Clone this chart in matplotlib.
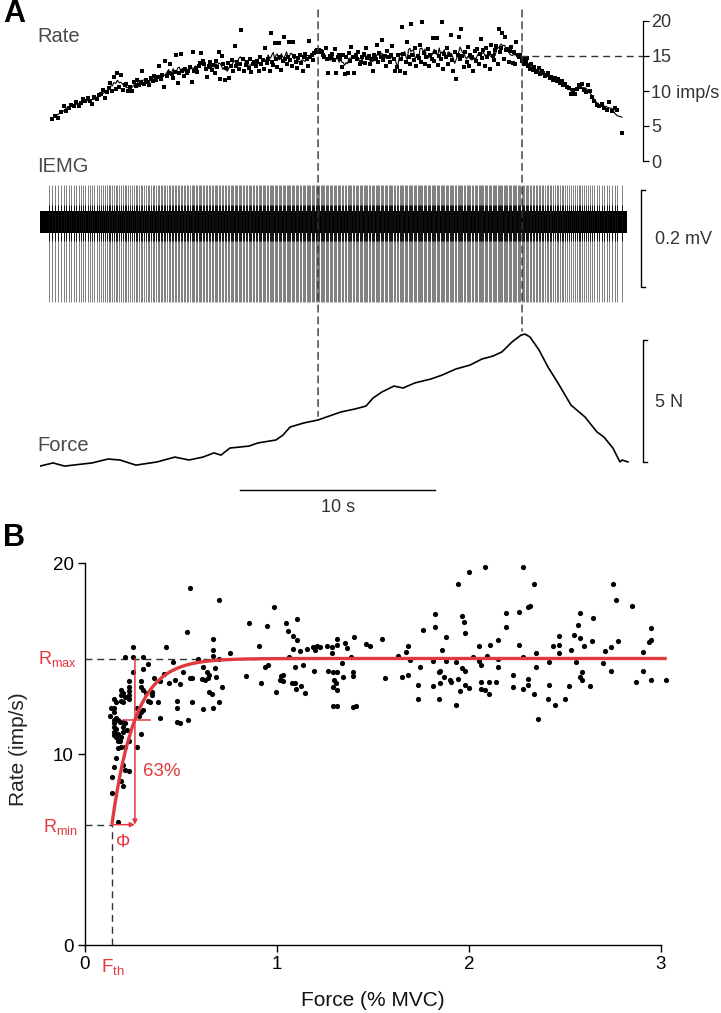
import numpy as np
import matplotlib
matplotlib.use('Agg')
import matplotlib.pyplot as plt
from matplotlib.patches import ConnectionPatch
import pandas as pd

plt.rcParams['font.family'] = ['Liberation Sans', 'DejaVu Sans']

RED = '#e0393e'
GRAY = '#4a4a4a'

# ---------------- Panel A data ----------------
# instantaneous discharge rates (imp/s), in firing order
rate_a = [
    6.0, 6.4, 6.1, 7.0, 7.9, 7.2, 7.6, 8.0, 7.8, 8.4, 7.9, 8.3, 8.8, 8.5, 9.0, 8.6, 8.1, 9.2, 8.9, 9.4,
    9.6, 10.2, 9.0, 9.8, 10.4, 11.1, 10.0, 12.0, 10.3, 12.6, 10.5, 12.3, 10.1, 10.8, 11.0, 10.0,
    10.6, 10.0, 11.3, 10.7, 11.6, 10.9, 11.2, 12.9, 11.0, 11.5, 11.3, 10.9, 11.8, 11.4, 12.1, 11.6,
    12.0, 13.6, 11.7, 12.3, 10.6, 14.3, 12.1, 12.6, 13.9, 12.4, 11.8, 12.7, 15.1, 11.1, 12.5, 15.3,
    12.9, 12.2, 13.1, 12.6, 12.8, 13.4, 11.3, 15.6, 12.9, 13.3, 12.7, 13.5, 14.0, 15.4, 14.3, 13.8,
    13.2, 12.0, 13.6, 14.1, 13.0, 13.7, 12.6, 14.3, 13.4, 15.6, 11.7, 15.0, 13.8, 11.6, 13.3, 14.0,
    11.9, 13.5, 14.4, 12.9, 16.4, 13.6, 14.2, 13.1, 13.9, 18.7, 14.5, 12.8, 13.7, 14.1, 13.3, 14.6,
    12.7, 13.9, 14.2,
    13.6, 14.3, 12.9, 14.8, 13.9, 14.4, 13.2, 16.1, 14.0, 14.6, 12.8, 18.3, 14.2, 13.7, 16.9, 14.5,
    13.4, 16.9, 14.8, 13.0, 14.3, 17.7, 14.6, 13.8, 14.9, 17.0, 14.4, 13.5, 17.0, 15.0, 14.1, 13.3,
    14.7, 15.2, 14.0, 12.9, 14.9, 15.3, 14.5, 13.6, 17.1, 14.8, 15.1, 14.4,
    15.4, 15.7, 15.8, 15.6, 15.9, 15.7, 15.5, 15.2, 14.9, 16.2, 14.6, 12.6, 15.0, 14.7, 15.3, 14.4,
    16.0, 12.6, 14.9, 15.1, 14.5, 13.4, 15.2, 12.4, 14.8, 12.6, 15.4, 14.3, 16.3, 14.9, 12.6, 15.1,
    14.6, 15.5, 13.8, 14.2, 14.8, 15.3, 14.0, 16.1, 14.7, 15.0, 13.9, 14.5, 12.9, 15.2, 14.6, 16.6,
    14.1, 15.4, 14.9, 17.3, 14.4, 15.0, 13.6, 15.7, 14.8, 14.2, 15.1, 16.4, 14.5, 12.9,
    13.4, 15.1, 12.9, 14.6, 19.1, 15.3, 12.6, 14.2, 17.0, 14.9, 13.8, 19.6, 15.2, 14.4, 16.1, 13.6,
    15.0, 14.7, 16.5, 14.1, 19.9, 15.4, 13.9, 14.8, 16.0, 13.5, 15.2, 14.6, 17.6, 14.3, 15.5, 17.6,
    13.7, 15.0, 14.5, 19.9, 13.2, 15.3, 14.8, 16.2, 13.9, 15.1, 18.0, 14.4, 12.8, 15.6,
    11.7, 15.2, 17.7, 14.6, 18.9, 15.0, 13.4, 15.5, 14.1, 16.3, 13.6, 15.1, 14.8, 12.9, 15.7, 14.3,
    16.0, 13.8, 15.3, 17.4, 14.7, 15.9, 13.5, 16.2, 14.9, 15.4, 13.2, 16.5, 15.0, 14.4, 15.8, 16.4,
    13.9, 18.9, 15.6, 16.1, 18.3, 14.6, 17.7, 15.9, 16.0, 14.2, 15.7, 16.3, 14.0, 15.5, 13.8, 17.0,
    15.2,
    14.8, 15.1, 14.3, 14.6, 13.9, 14.2, 14.7, 13.6, 13.2, 13.8, 13.0, 13.4, 12.7, 12.9, 13.3, 12.4,
    12.8, 12.6, 12.1, 12.3, 12.5, 11.8, 12.0, 11.6, 11.9, 11.4, 11.7,
    11.2, 11.4, 10.9, 11.0, 10.6, 10.4, 9.6, 10.1, 9.5, 10.3, 10.8, 10.5, 11.0, 10.2, 9.8, 10.9,
    10.0, 9.2, 8.6, 8.0, 7.8,
    8.2, 7.6, 7.3, 8.4, 7.1, 7.5, 7.3, 4.0,
]
first_spike_t = 0.45  # s

force_t = [0.0, 0.67, 1.26, 2.67, 3.49, 4.10, 4.92, 6.0, 6.92, 7.64, 8.36, 8.92, 9.28, 9.74,
           10.72, 11.18, 12.10, 12.46, 12.82, 13.54, 14.26, 14.97, 15.44, 16.15, 16.72, 17.08,
           17.54, 18.15, 18.62, 19.23, 20.05, 20.62, 21.33, 22.05, 22.67, 23.23, 23.69, 24.21,
           24.67, 24.87, 25.13, 25.59, 26.05, 26.56, 27.23, 27.95, 28.56, 28.92, 29.38, 29.74,
           29.85, 30.15]
force_n = [0.16, 0.29, 0.16, 0.29, 0.45, 0.41, 0.20, 0.33, 0.53, 0.41, 0.53, 0.70, 0.61, 0.90,
           0.98, 1.11, 1.23, 1.43, 1.76, 1.93, 2.05, 2.25, 2.38, 2.50, 2.62, 2.95,
           3.20, 3.44, 3.36, 3.57, 3.73, 3.89, 4.14, 4.30, 4.55, 4.67, 4.84, 5.25,
           5.53, 5.57, 5.45, 4.92, 4.22, 3.57, 2.66, 2.17, 1.56, 1.35, 0.90, 0.33,
           0.41, 0.33]

marker_times = [14.26, 24.72]
rate_ref = 15
spike_up, spike_down = 0.076, -0.165   # mV
noise_half = 0.023                     # mV

# ---------------- Panel B data ----------------
force_b = [
    0.25, 0.21, 0.25, 0.30, 0.42, 0.33, 0.30, 0.25, 0.29, 0.29, 0.39, 0.44, 0.47,
    0.23, 0.23, 0.23, 0.23, 0.23, 0.19, 0.20, 0.19, 0.21, 0.19, 0.20, 0.15, 0.16, 0.15,
    0.30, 0.32, 0.35, 0.35, 0.33, 0.34, 0.38, 0.39, 0.27, 0.30, 0.29, 0.28, 0.48, 0.48, 0.48,
    0.135, 0.15, 0.13, 0.16, 0.15, 0.17, 0.18, 0.20, 0.21,
    0.15, 0.15, 0.16, 0.15, 0.15, 0.16, 0.17, 0.17, 0.18, 0.19, 0.20, 0.20, 0.22, 0.29,
    0.23, 0.27, 0.21, 0.19, 0.17, 0.16, 0.15, 0.20, 0.21, 0.23, 0.14, 0.19, 0.20, 0.14, 0.17,
    0.46, 0.36, 0.41,
    0.547, 0.698, 0.53, 0.668, 0.668, 0.668, 0.755, 0.59, 0.698, 0.509, 0.495, 0.547, 0.559,
    0.616, 0.634, 0.648, 0.643, 0.625, 0.608, 0.682, 0.677, 0.715, 0.646, 0.66, 0.557, 0.698,
    0.668, 0.616, 0.538, 0.495,
    0.837, 0.856, 0.906, 0.915, 0.936, 0.955, 0.946, 0.986, 0.996, 1.019, 1.033, 1.016, 1.030,
    1.045, 1.056, 1.085, 1.102, 1.106, 1.085, 1.064, 1.094, 1.137, 1.076, 1.094, 1.097, 1.123,
    1.146, 1.12, 1.155, 1.189, 1.198, 1.21, 1.224, 1.194, 1.259, 1.285, 1.285, 1.314, 1.314,
    1.354, 1.363, 1.403, 1.384, 1.337, 1.267, 1.29, 1.311, 1.299, 1.307, 1.314, 1.293, 1.345,
    1.394, 1.394, 1.293, 1.311, 1.394, 1.411,
    1.464, 1.484, 1.545, 1.563, 1.632, 1.653, 1.672, 1.684, 1.684, 1.693, 1.733, 1.733, 1.745,
    1.762, 1.813, 1.813, 1.823, 1.823, 1.842, 1.842, 1.851, 1.851, 1.861, 1.872, 1.882, 1.882,
    1.901, 1.905, 1.931, 1.931, 1.941, 1.941, 1.951, 1.962, 1.962, 1.972, 1.981, 1.981, 1.981,
    2.002, 2.002, 2.023, 2.052, 2.052, 2.063, 2.063, 2.063, 2.082, 2.082, 2.092, 2.102, 2.102,
    2.111, 2.141, 2.151, 2.151, 2.151, 2.191, 2.191, 2.231, 2.231, 2.26, 2.26, 2.28, 2.28, 2.28,
    2.309, 2.309, 2.319, 2.309, 2.34, 2.34, 2.349, 2.349, 2.361, 2.41, 2.418, 2.418, 2.439,
    2.45, 2.47, 2.47, 2.47, 2.5, 2.519, 2.53, 2.549, 2.559, 2.569, 2.578, 2.578, 2.578, 2.589,
    2.589, 2.599, 2.628, 2.639, 2.648, 2.698, 2.708, 2.738, 2.738, 2.748, 2.767, 2.778, 2.847,
    2.868, 2.908, 2.908, 2.938, 2.948, 2.948, 2.948, 3.026,
]
rate_b = [
    15.6, 15.1, 15.1, 15.1, 15.6, 14.7, 14.45, 14.3, 13.8, 13.5, 13.8, 13.7, 13.9,
    13.8, 13.5, 13.3, 13.1, 12.9, 13.35, 13.2, 13.1, 13.0, 12.8, 12.7, 12.9, 12.7, 12.4,
    13.35, 13.2, 13.25, 13.1, 12.8, 12.7, 12.7, 11.9, 12.4, 12.3, 12.2, 12.0, 12.8, 12.4, 11.7,
    12.4, 12.2, 12.0, 11.9, 11.8, 11.8, 11.7, 11.7, 11.6,
    11.6, 11.4, 11.3, 11.15, 11.0, 10.9, 11.05, 10.7, 10.7, 10.9, 11.15, 11.4, 11.25, 11.05,
    10.7, 10.35, 10.35, 10.35, 10.3, 9.8, 9.3, 9.4, 9.15, 9.1, 8.8, 8.6, 8.3, 7.95, 6.45,
    14.8, 14.0, 14.2,
    18.67, 18.06, 16.4, 16.0, 15.45, 15.15, 15.28, 14.97, 14.97, 14.31, 13.66, 14.0, 14.0,
    14.57, 14.31, 14.13, 13.96, 13.87, 13.92, 14.02, 14.49, 13.52, 13.26, 13.14, 12.74, 12.74,
    12.42, 12.34, 11.78, 11.64,
    14.08, 16.88, 15.67, 13.7, 14.57, 14.64, 16.72, 17.68, 13.23, 14.08, 14.13, 13.9, 13.84,
    16.88, 16.44, 16.18, 15.97, 17.07, 15.5, 15.09, 14.57, 14.66, 13.73, 13.7, 13.39, 13.56,
    13.18, 15.39, 15.5, 15.58, 15.45, 15.65, 15.58, 14.36, 15.65, 15.58, 15.27, 16.02, 15.71,
    15.83, 15.53, 16.14, 15.09, 14.77, 14.36, 14.31, 14.27, 13.9, 13.73, 13.35, 13.52, 14.01,
    14.31, 14.08, 12.53, 12.53, 12.48, 12.53,
    15.74, 15.65, 16.02, 13.96, 15.15, 14.05, 15.36, 15.67, 14.12, 14.92, 13.63, 12.9, 14.54,
    16.48, 14.85, 13.54, 17.31, 16.65, 12.86, 14.31, 14.36, 13.70, 15.45, 14.01, 16.14, 14.89,
    13.87, 13.79, 12.57, 14.8, 18.92, 13.94, 13.3, 17.23, 14.49, 16.9, 16.32, 14.36, 13.63,
    19.51, 13.44, 15.1, 15.67, 14.89, 14.64, 13.79, 13.39, 19.77, 13.35, 15.15, 13.79, 13.12,
    15.72, 13.76, 15.97, 14.97, 14.54, 17.40, 16.65, 14.12, 13.49, 17.43, 15.71, 19.77, 15.06, 13.41,
    17.68, 13.61, 17.75, 13.94, 18.88, 13.14, 15.3, 14.54, 11.81, 12.9, 14.8, 13.63, 15.67,
    12.55, 16.18, 15.71, 15.3, 12.86, 13.54, 15.46, 16.23, 14.83, 16.75, 17.36, 16.09, 14.03, 14.31,
    13.87, 15.65, 13.58, 15.93, 17.1, 14.75, 15.39, 15.6, 14.34, 18.88, 18.06, 15.90, 17.75,
    13.75, 15.34, 14.36, 15.86, 15.97, 16.6, 13.87, 13.87,
]
R_min, R_max, F_th, phi = 6.3, 15.0, 0.14, 0.12
fit_end = 3.03

# ---------------- Figure ----------------
W, H = 721, 1013
fig = plt.figure(figsize=(W / 100, H / 100), dpi=100)


def ax_px(left, top, right, bottom):
    return fig.add_axes([left / W, 1 - bottom / H, (right - left) / W, (bottom - top) / H])


T_MAX = (643 - 40) / 19.5
ax_r = ax_px(40, 10, 643, 165)
ax_e = ax_px(40, 175, 643, 312)
ax_f = ax_px(40, 320, 643, 515)
for a in (ax_r, ax_e, ax_f):
    a.set_xlim(0, T_MAX)
    a.patch.set_alpha(0)
    for s in ('top', 'bottom', 'left'):
        a.spines[s].set_visible(False)
    a.set_xticks([])
ax_r.set_ylim((161 - 165) / 7, (161 - 10) / 7)
ax_e.set_ylim((222 - 312) / 485, (222 - 175) / 485)
ax_f.set_ylim((470 - 515) / 24.4, (470 - 320) / 24.4)
ax_e.spines['right'].set_visible(False)
ax_f.spines['right'].set_visible(False)
ax_e.set_yticks([])
ax_f.set_yticks([])

# spike times from instantaneous rates
rate_arr = np.array(rate_a)
rate_times = first_spike_t + np.cumsum(1.0 / rate_arr)
spike_times = np.concatenate([[first_spike_t], rate_times])

# Rate panel
smooth = pd.Series(rate_arr).rolling(5, center=True, min_periods=1).mean()
ax_r.plot(rate_times, smooth, color='k', lw=0.8)
ax_r.scatter(rate_times, rate_arr, marker='s', s=6.5, c='k', linewidths=0)
ax_r.spines['right'].set_bounds(0, 20)
ax_r.spines['right'].set_linewidth(0.9)
ax_r.yaxis.tick_right()
ax_r.set_yticks([0, 5, 10, 15, 20])
ax_r.set_yticklabels(['0', '5', '10 imp/s', '15', '20'])
ax_r.tick_params(axis='y', direction='out', length=4, width=0.9, labelsize=13,
                 labelcolor='#333333', pad=2)
ax_r.plot([24.6, T_MAX], [rate_ref, rate_ref], ls=(0, (5, 3.5)), color='#333333', lw=1.0,
          clip_on=False)

# IEMG panel
ax_e.vlines(spike_times, spike_down, spike_up, color='#6a6a6a', lw=0.6)
ax_e.fill_between([0, 30.1], -noise_half, noise_half, color='k', lw=0)
ax_e.vlines(spike_times, -0.04, 0.035, color='k', lw=0.6)
xb = (641 - 40) / 19.5
ax_e.plot([xb + 0.2, xb, xb, xb + 0.2], [-0.134, -0.134, 0.066, 0.066], color='k', lw=1,
          clip_on=False)
ax_e.text((655 - 40) / 19.5, -0.037, '0.2 mV', fontsize=13, color='#333333', va='center',
          clip_on=False)

# Force panel
ax_f.plot(force_t, force_n, color='k', lw=1.2)
xb = (643 - 40) / 19.5
ax_f.plot([xb + 0.2, xb, xb, xb + 0.2], [0.33, 0.33, 5.33, 5.33], color='k', lw=1,
          clip_on=False)
ax_f.text((655 - 40) / 19.5, 2.75, '5 N', fontsize=13, color='#333333', va='center')
ax_f.plot([10.26, 20.26], [-0.82, -0.82], color='k', lw=1)
ax_f.text(15.26, -1.52, '10 s', fontsize=13, color='#333333', ha='center', va='center')

# vertical dashed markers spanning the three traces
for t in marker_times:
    fend = np.interp(t, force_t, force_n) + 0.15
    cp = ConnectionPatch(xyA=(t, (161 - 10) / 7), coordsA=ax_r.transData,
                         xyB=(t, fend), coordsB=ax_f.transData,
                         ls=(0, (5, 3.5)), color='#333333', lw=1.0)
    fig.add_artist(cp)

for label, y in (('Rate', 37), ('IEMG', 167), ('Force', 445)):
    fig.text(37 / W, 1 - y / H, label, fontsize=14.5, color=GRAY, va='center')

fig.text(3 / W, 1 - 14 / H, 'A', fontsize=22, fontweight='bold', va='center')
fig.text(3 / W, 1 - 538 / H, 'B', fontsize=22, fontweight='bold', va='center')

# ---------------- Panel B ----------------
axb = ax_px(85, 945 - 20.5 * 19.1, 85 + 3.1 * 192, 945)
axb.set_xlim(0, 3.1)
axb.set_ylim(0, 20.5)
axb.spines['top'].set_visible(False)
axb.spines['right'].set_visible(False)
axb.spines['left'].set_bounds(0, 20)
axb.spines['bottom'].set_bounds(0, 3)
for s in ('left', 'bottom'):
    axb.spines[s].set_linewidth(1.0)
axb.set_xticks([0, 1, 2, 3])
axb.set_yticks([0, 10, 20])
axb.tick_params(direction='out', length=5, width=1.0, labelsize=13.5, pad=3)
axb.set_ylabel('Rate (imp/s)', fontsize=15, color='#222222')
axb.yaxis.set_label_coords(-0.095, 0.5)
axb.set_xlabel('Force (% MVC)', fontsize=15, color='#111111')
axb.xaxis.set_label_coords(0.484, -0.118)

axb.plot([0, 0.92], [R_max, R_max], ls=(0, (5, 3.5)), color='#333333', lw=1.0, zorder=1)
axb.plot([0, F_th], [R_min, R_min], ls=(0, (5, 3.5)), color='#333333', lw=1.0, zorder=1)
axb.plot([F_th, F_th], [0, R_min], ls=(0, (5, 3.5)), color='#333333', lw=1.0, zorder=1)

axb.scatter(force_b, rate_b, s=14, c='k', linewidths=0, zorder=2)

ff = np.linspace(F_th, fit_end, 400)
axb.plot(ff, R_min + (R_max - R_min) * (1 - np.exp(-(ff - F_th) / phi)), color=RED, lw=2.4,
         zorder=3, solid_capstyle='butt')

R63 = R_min + 0.63 * (R_max - R_min)
axb.plot([0.20, 0.34], [R63, R63], color=RED, lw=1.1, zorder=3)
arrow = dict(arrowstyle='-|>', color=RED, lw=1.1, mutation_scale=7, shrinkA=0, shrinkB=0)
axb.annotate('', xy=(F_th + phi, R_min), xytext=(F_th + phi, R_max), arrowprops=arrow,
             zorder=3)
axb.annotate('', xy=(F_th + phi, R_min), xytext=(F_th, R_min), arrowprops=arrow, zorder=3)

axb.text(0.30, 9.1, '63%', color=RED, fontsize=13.5, va='center')
axb.text(F_th + 0.06, 5.35, 'Φ', color=RED, fontsize=13, ha='center', va='center')
axb.text(-0.04, R_max, r'R$_\mathregular{max}$', color=RED, fontsize=13, ha='right',
         va='center', clip_on=False)
axb.text(-0.04, R_min - 0.1, r'R$_\mathregular{min}$', color=RED, fontsize=13, ha='right',
         va='center', clip_on=False)
axb.text(F_th + 0.005, -1.2, r'F$_\mathregular{th}$', color=RED, fontsize=13.5, ha='center',
         va='center', clip_on=False)

fig.savefig('out.png', dpi=100)
